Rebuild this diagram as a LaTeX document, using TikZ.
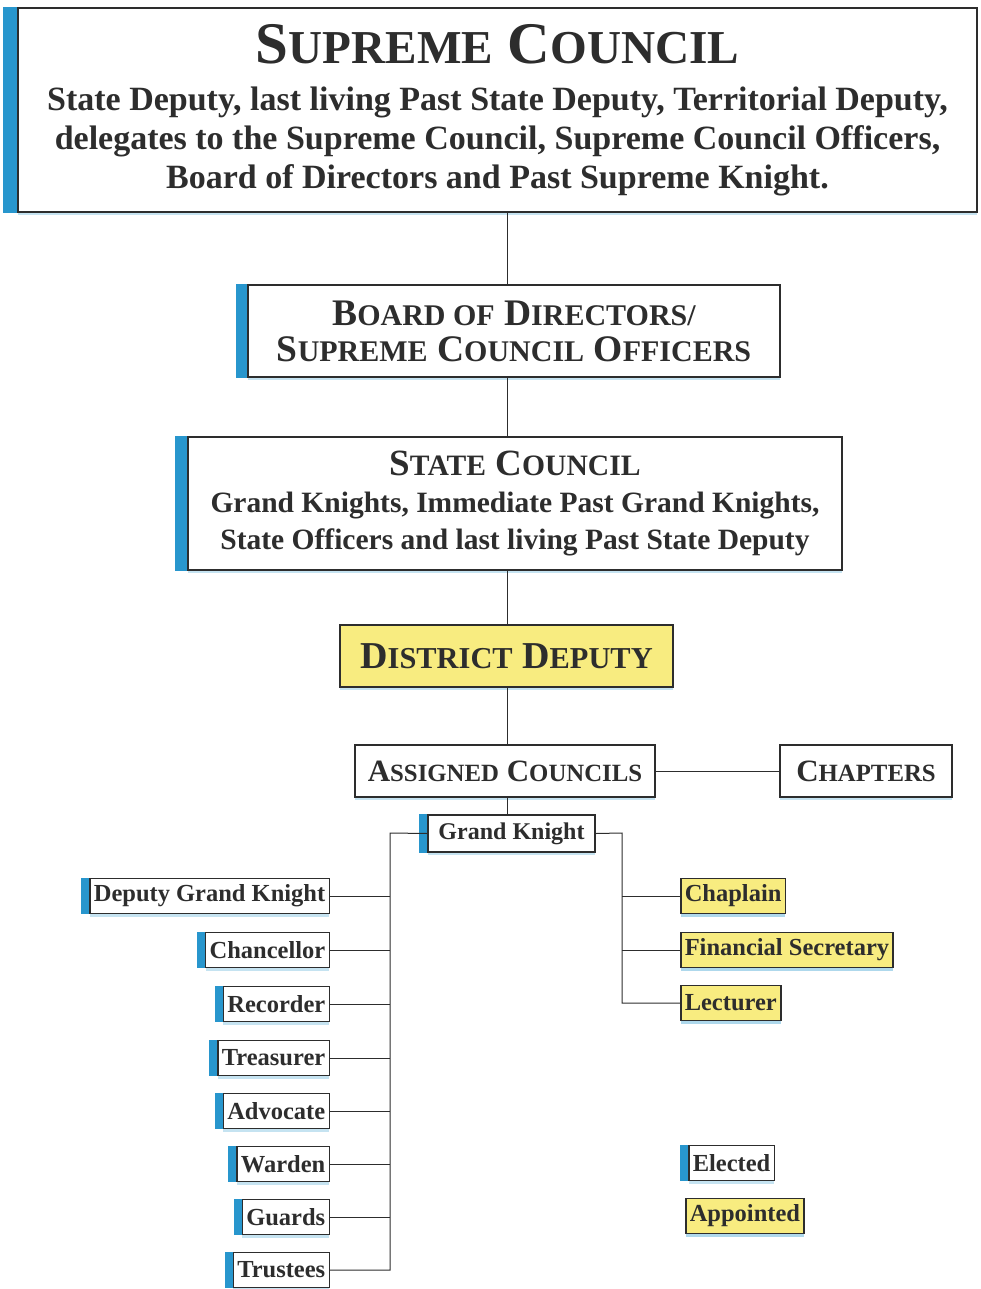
\documentclass[tikz,border=0pt]{standalone}
\usepackage{fontspec}
\setmainfont{Liberation Serif}
\usetikzlibrary{shadows}

\definecolor{kcblue}{RGB}{40,150,205}
\definecolor{kcyellow}{RGB}{248,236,128}
\definecolor{kcink}{RGB}{45,45,45}

% capital followed by smaller capitals
\makeatletter
\newcommand{\kcsc}[2]{#1{\fontsize{\fpeval{0.8*\f@size}}{\f@baselineskip}\selectfont #2}}
\makeatother

\tikzset{
    orgbox/.style={draw=kcink, line width=1.5pt, fill=white, text=kcink, align=center,
        inner sep=4pt, font=\fontsize{34}{39}\selectfont\bfseries,
        drop shadow={fill=kcblue!45, opacity=0.6, shadow xshift=0pt, shadow yshift=-3pt}},
    apptbox/.style={orgbox, fill=kcyellow},
    officer/.style={orgbox, font=\fontsize{24.5}{26}\selectfont\bfseries, inner xsep=4pt, inner ysep=2pt, minimum height=35pt},
    link/.style={draw=kcink, line width=1pt},
}

\begin{document}
\begin{tikzpicture}[x=1pt, y=-1pt]

    \useasboundingbox (0,0) rectangle (981,1289);

    % Main spine and the two branches of the council
    \coordinate (spine) at (507, 0);
    \coordinate (lt) at (390, 833);
    \coordinate (rt) at (622, 833);

    % Supreme Council
    \node[orgbox, minimum width=959pt, minimum height=204pt] (sc) at (497.5, 110)
        {{\fontsize{59}{59}\selectfont \kcsc{S}{UPREME} \kcsc{C}{OUNCIL}}\\[8pt]
         State Deputy, last living Past State Deputy, Territorial Deputy,\\
         delegates to the Supreme Council, Supreme Council Officers,\\
         Board of Directors and Past Supreme Knight.};

    % Board of Directors
    \node[orgbox, minimum width=532pt, minimum height=92pt, font=\fontsize{37.5}{36}\selectfont\bfseries] (bod) at (514, 331)
        {\kcsc{B}{OARD OF} \kcsc{D}{IRECTORS/}\\
         \kcsc{S}{UPREME} \kcsc{C}{OUNCIL} \kcsc{O}{FFICERS}};

    % State Council
    \node[orgbox, minimum width=654pt, minimum height=133pt, font=\fontsize{29.5}{37}\selectfont\bfseries] (stc) at (515, 503.5)
        {{\fontsize{37}{37}\selectfont \kcsc{S}{TATE} \kcsc{C}{OUNCIL}}\\
         Grand Knights, Immediate Past Grand Knights,\\
         State Officers and last living Past State Deputy};

    % District Deputy
    \node[apptbox, minimum width=333pt, minimum height=62pt, font=\fontsize{38}{40}\selectfont\bfseries] (dd) at (506.5, 656)
        {\kcsc{D}{ISTRICT} \kcsc{D}{EPUTY}};

    % Assigned Councils and Chapters
    \node[orgbox, minimum width=300pt, minimum height=52pt, font=\fontsize{31}{32}\selectfont\bfseries] (ac) at (505, 771)
        {\kcsc{A}{SSIGNED} \kcsc{C}{OUNCILS}};
    \node[orgbox, minimum width=172pt, minimum height=52pt, font=\fontsize{31}{32}\selectfont\bfseries] (ch) at (866, 771)
        {\kcsc{C}{HAPTERS}};

    % Grand Knight
    \node[officer, minimum width=167pt, minimum height=37pt, font=\fontsize{24}{26}\selectfont\bfseries] (gk) at (511.5, 833.5) {Grand Knight};

    % Elected officers
    \node[officer, anchor=east] (dgk) at (330, 896) {Deputy Grand Knight};
    \node[officer, anchor=east] (chan) at (330, 950) {Chancellor};
    \node[officer, anchor=east] (rec) at (330, 1004) {Recorder};
    \node[officer, anchor=east] (treas) at (330, 1058) {Treasurer};
    \node[officer, anchor=east] (adv) at (330, 1111) {Advocate};
    \node[officer, anchor=east] (war) at (330, 1164) {Warden};
    \node[officer, anchor=east] (grd) at (330, 1217) {Guards};
    \node[officer, anchor=east] (trus) at (330, 1270) {Trustees};

    % Appointed officers
    \node[officer, apptbox, font=\fontsize{24.5}{26}\selectfont\bfseries, anchor=west] (chap) at (680, 896) {Chaplain};
    \node[officer, apptbox, font=\fontsize{24.5}{26}\selectfont\bfseries, anchor=west] (fin) at (680, 950) {Financial Secretary};
    \node[officer, apptbox, font=\fontsize{24.5}{26}\selectfont\bfseries, anchor=west] (lect) at (680, 1003) {Lecturer};

    % Legend
    \node[officer, anchor=west] (elec) at (688, 1163) {Elected};
    \node[officer, apptbox, font=\fontsize{24.5}{26}\selectfont\bfseries, anchor=west] (appt) at (685, 1216) {Appointed};

    % Blue bars on the left of the elected boxes
    \foreach \n/\w in {sc/14, bod/11, stc/12, gk/8, dgk/8, chan/8, rec/8, treas/8, adv/8, war/8, grd/8, trus/8, elec/8}
        \fill[kcblue] ([xshift=-\w pt]\n.south west) rectangle (\n.north west);

    % Connectors down the spine
    \draw[link] (sc.south -| spine) -- (bod.north -| spine);
    \draw[link] (bod.south -| spine) -- (stc.north -| spine);
    \draw[link] (stc.south -| spine) -- (dd.north -| spine);
    \draw[link] (dd.south -| spine) -- (ac.north -| spine);
    \draw[link] (ac.south -| spine) -- (gk.north -| spine);
    \draw[link] (ac.east) -- (ch.west);

    % Grand Knight to the elected officers
    \draw[link] (gk.west) -- (lt) |- (trus.east);
    \foreach \n in {dgk, chan, rec, treas, adv, war, grd}
        \draw[link] (\n.east) -- (\n.east -| lt);

    % Grand Knight to the appointed officers
    \draw[link] (gk.east) -- (rt) |- (lect.west);
    \foreach \n in {chap, fin}
        \draw[link] (\n.west) -- (\n.west -| rt);

\end{tikzpicture}
\end{document}
